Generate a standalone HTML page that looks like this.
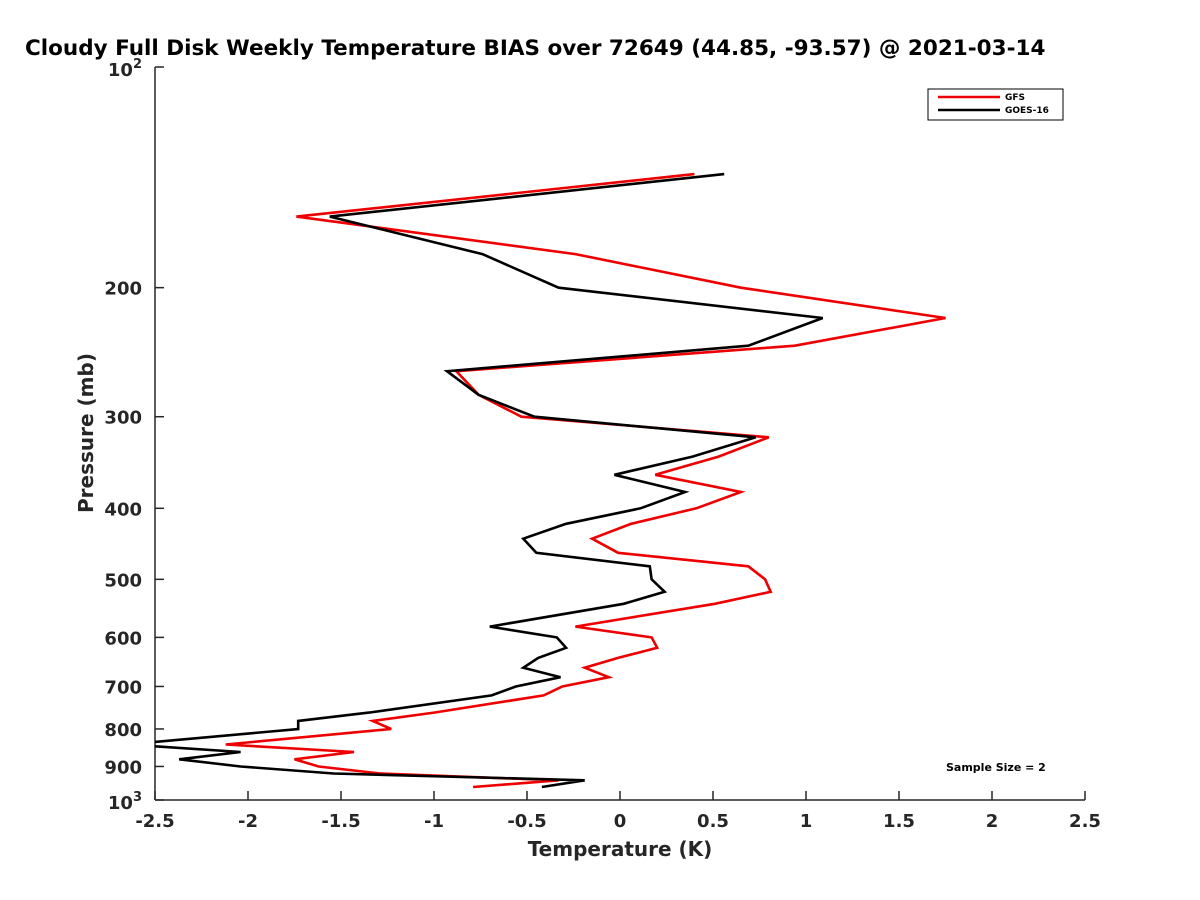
<!DOCTYPE html>
<html><head><meta charset="utf-8"><style>
body{margin:0;background:#fff}
svg{display:block;font-family:"DejaVu Sans","Liberation Sans",sans-serif;font-weight:bold}
</style></head><body>
<svg id="chart" width="1200" height="900" viewBox="0 0 1200 900">
<defs><clipPath id="plotclip"><rect x="155" y="67" width="930" height="733"/></clipPath></defs>
<text x="25" y="55" font-size="21.5" fill="#000">Cloudy Full Disk Weekly Temperature BIAS over 72649 (44.85, -93.57) @ 2021-03-14</text>
<g id="axes"></g>
<g id="series" clip-path="url(#plotclip)"></g>
<text x="620" y="856" font-size="20" text-anchor="middle" fill="#262626">Temperature (K)</text>
<text transform="translate(93,433) rotate(-90)" font-size="20" text-anchor="middle" fill="#262626">Pressure (mb)</text>
<g>
<rect x="928" y="89" width="135" height="31" fill="#fff" stroke="#000" stroke-width="1"/>
<line x1="938" y1="97" x2="1000" y2="97" stroke="#e00" stroke-width="2.5"/>
<text x="1005" y="100" font-size="9">GFS</text>
<line x1="938" y1="110" x2="1000" y2="110" stroke="#000" stroke-width="2.5"/>
<text x="1005" y="113" font-size="9">GOES-16</text>
</g>
<text x="946" y="771" font-size="11">Sample Size = 2</text>
</svg>
<script>
const pressures=[140,160,180,200,220,240,260,280,300,320,340,360,380,400,420,440,460,480,500,520,540,580,600,620,640,660,680,700,720,760,780,800,840,860,880,900,920,940,960];
const gfsBias=[0.40,-1.74,-0.24,0.65,1.75,0.94,-0.88,-0.76,-0.53,0.80,0.53,0.19,0.65,0.41,0.06,-0.15,-0.01,0.69,0.78,0.81,0.51,-0.24,0.17,0.20,-0.01,-0.19,-0.06,-0.31,-0.41,-1.0,-1.33,-1.23,-2.12,-1.43,-1.75,-1.62,-1.29,-0.33,-0.79];
const goesBias=[0.56,-1.56,-0.74,-0.33,1.09,0.69,-0.93,-0.76,-0.46,0.73,0.39,-0.03,0.35,0.11,-0.29,-0.52,-0.45,0.16,0.17,0.24,0.02,-0.70,-0.34,-0.29,-0.44,-0.52,-0.32,-0.56,-0.69,-1.35,-1.73,-1.73,-2.65,-2.04,-2.37,-2.04,-1.54,-0.19,-0.42];
const xTicks=[-2.5,-2,-1.5,-1,-0.5,0,0.5,1,1.5,2,2.5];
const xTickLabels=["-2.5","-2","-1.5","-1","-0.5","0","0.5","1","1.5","2","2.5"];
const yTicks=[200,300,400,500,600,700,800,900];
const NS="http://www.w3.org/2000/svg";
const X0=155,X1=1085,Y0=67,Y1=800;
function xs(v){return X0+(v+2.5)/5*(X1-X0);}
function ys(p){return Y0+(Math.log10(p)-2)*(Y1-Y0);}
function mk(tag,attrs,parent){const e=document.createElementNS(NS,tag);for(const k in attrs)e.setAttribute(k,attrs[k]);parent.appendChild(e);return e;}
const axes=document.getElementById('axes');
let l=mk('line',{x1:X0,y1:Y0,x2:X0,y2:Y1,stroke:'#262626','stroke-width':1.5},axes);


l=mk('line',{x1:X0,y1:Y1,x2:X1,y2:Y1,stroke:'#262626','stroke-width':1.5},axes);


xTicks.forEach((v,i)=>{
  const t=mk('line',{x1:xs(v),y1:Y1,x2:xs(v),y2:Y1-9,stroke:'#262626','stroke-width':1.5},axes);
  
  
  const tx=mk('text',{x:xs(v),y:Y1+27,'font-size':18,'text-anchor':'middle',fill:'#262626'},axes);
  tx.textContent=xTickLabels[i];
  
  
});
yTicks.forEach(p=>{
  const t=mk('line',{x1:X0,y1:ys(p),x2:X0+9,y2:ys(p),stroke:'#262626','stroke-width':1.5},axes);
  
  
  const tx=mk('text',{x:X0-13,y:ys(p)+7,'font-size':18,'text-anchor':'end',fill:'#262626'},axes);
  tx.textContent=String(p);
  
  
});
[[100,'2'],[1000,'3']].forEach(([p,e])=>{
  const t=mk('line',{x1:X0,y1:ys(p),x2:X0+9,y2:ys(p),stroke:'#262626','stroke-width':1.5},axes);
  
  
  const tx=mk('text',{x:X0-13,y:ys(p)+9,'font-size':18,'text-anchor':'end',fill:'#262626'},axes);
  
  
  const a=mk('tspan',{},tx);a.textContent='10';
  const b=mk('tspan',{dy:-8,'font-size':13},tx);b.textContent=e;
});
const series=document.getElementById('series');
function drawLine(vals,color,name){
  const pts=vals.map((v,i)=>xs(v).toFixed(1)+','+ys(pressures[i]).toFixed(1)).join(' ');
  const pl=mk('polyline',{points:pts,fill:'none',stroke:color,'stroke-width':2.6,'stroke-linejoin':'miter'},series);
  
  
}
drawLine(gfsBias,'#e00','gfs-line');
drawLine(goesBias,'#000','goes16-line');
</script>
</body></html>
